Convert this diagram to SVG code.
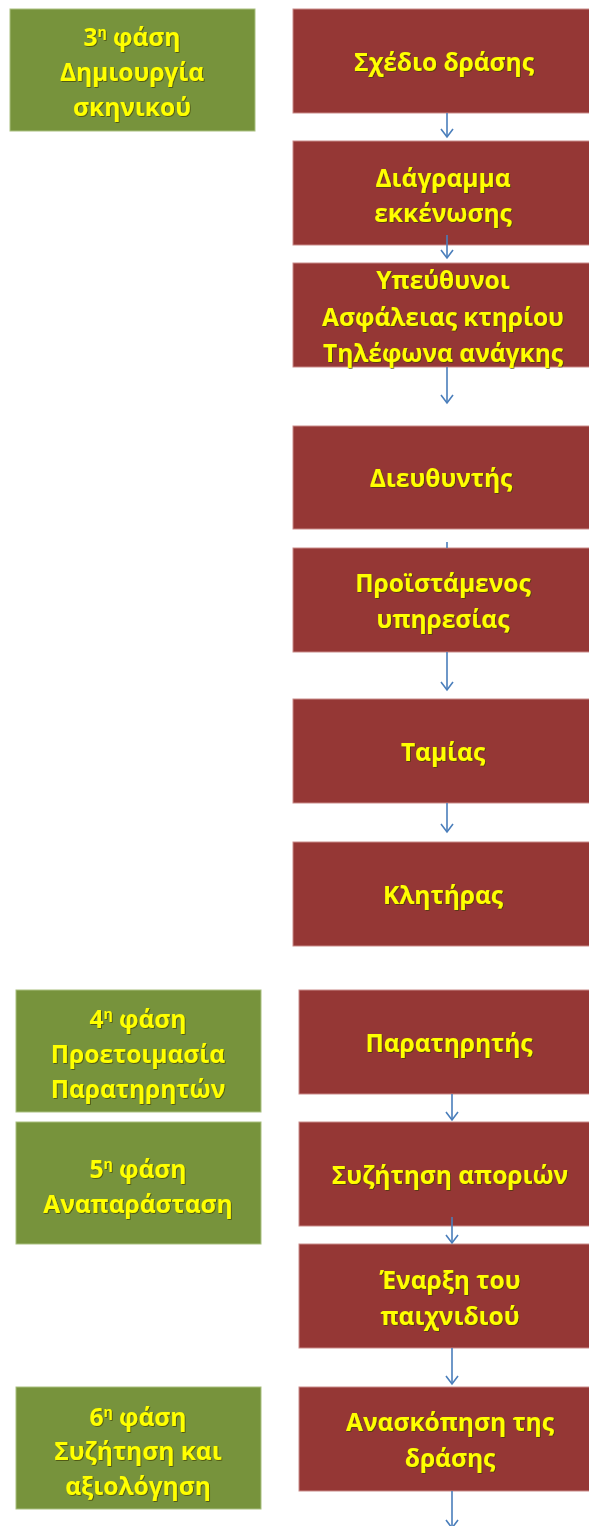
<svg xmlns="http://www.w3.org/2000/svg" width="589" height="1526" viewBox="0 0 589 1526">
<style>
.g{fill:#77933c;stroke:#a9bf7f;stroke-width:1}
.r{fill:#953735;stroke:#c98b89;stroke-width:1}
text{font-family:"Open Sans","Liberation Sans",sans-serif;font-weight:bold;font-size:24.5px;fill:#ffff00;text-anchor:middle;filter:url(#sh)}
.sup{font-size:14px}
.c line{stroke:#4a7ebb;stroke-width:1.6;fill:none}
.c path{stroke:#4a7ebb;stroke-width:1.6;fill:none}
</style>
<defs>
<filter id="sh" x="-10%" y="-30%" width="120%" height="160%">
<feDropShadow dx="0.8" dy="0.8" stdDeviation="0.7" flood-color="#3a3a00" flood-opacity="0.8"/>
</filter>
</defs>
<rect width="589" height="1526" fill="#ffffff"/>

<g id="phase3">
<rect class="g" x="10" y="9" width="245" height="122"/>
<text x="132" y="46">3<tspan class="sup" dy="-9">η</tspan><tspan dy="9"> φάση</tspan></text>
<text x="132" y="81">Δημιουργία</text>
<text x="132" y="116">σκηνικού</text>
</g>

<g id="n1"><rect class="r" x="293" y="9" width="300" height="104"/><text x="444" y="71">Σχέδιο δράσης</text></g>
<g id="n2"><rect class="r" x="293" y="141" width="300" height="104"/><text x="443" y="187">Διάγραμμα</text><text x="443" y="222">εκκένωσης</text></g>
<g id="n3"><rect class="r" x="293" y="263" width="300" height="104"/><text x="443" y="289">Υπεύθυνοι</text><text x="443" y="326">Ασφάλειας κτηρίου</text><text x="443" y="362">Τηλέφωνα ανάγκης</text></g>
<g id="n4"><rect class="r" x="293" y="426" width="300" height="103"/><text x="441" y="487">Διευθυντής</text></g>
<g id="n5"><rect class="r" x="293" y="548" width="300" height="104"/><text x="443" y="592">Προϊστάμενος</text><text x="443" y="628">υπηρεσίας</text></g>
<g id="n6"><rect class="r" x="293" y="699" width="300" height="104"/><text x="443" y="761">Ταμίας</text></g>
<g id="n7"><rect class="r" x="293" y="842" width="300" height="104"/><text x="443" y="904">Κλητήρας</text></g>

<g id="phase4">
<rect class="g" x="16" y="990" width="245" height="122"/>
<text x="138" y="1028">4<tspan class="sup" dy="-9">η</tspan><tspan dy="9"> φάση</tspan></text>
<text x="138" y="1063">Προετοιμασία</text>
<text x="138" y="1098">Παρατηρητών</text>
</g>
<g id="phase5">
<rect class="g" x="16" y="1122" width="245" height="122"/>
<text x="138" y="1178">5<tspan class="sup" dy="-9">η</tspan><tspan dy="9"> φάση</tspan></text>
<text x="138" y="1213">Αναπαράσταση</text>
</g>
<g id="phase6">
<rect class="g" x="16" y="1387" width="245" height="122"/>
<text x="138" y="1426">6<tspan class="sup" dy="-9">η</tspan><tspan dy="9"> φάση</tspan></text>
<text x="138" y="1460">Συζήτηση και</text>
<text x="138" y="1495">αξιολόγηση</text>
</g>

<g id="n8"><rect class="r" x="299" y="990" width="300" height="104"/><text x="449" y="1052">Παρατηρητής</text></g>
<g id="n9"><rect class="r" x="299" y="1122" width="300" height="104"/><text x="450" y="1184">Συζήτηση αποριών</text></g>
<g id="n10"><rect class="r" x="299" y="1244" width="300" height="104"/><text x="450" y="1289">Έναρξη του</text><text x="450" y="1325">παιχνιδιού</text></g>
<g id="n11"><rect class="r" x="299" y="1387" width="300" height="104"/><text x="450" y="1431">Ανασκόπηση της</text><text x="450" y="1467">δράσης</text></g>

<g id="connectors" class="c">
<line x1="447" y1="113" x2="447" y2="137"/><path d="M441,129 L447,137 L453,129"/>
<line x1="447" y1="235" x2="447" y2="258"/><path d="M441,250 L447,258 L453,250"/>
<line x1="447" y1="367" x2="447" y2="403"/><path d="M441,395 L447,403 L453,395"/>
<line x1="447" y1="542" x2="447" y2="548"/>
<line x1="447" y1="652" x2="447" y2="690"/><path d="M441,682 L447,690 L453,682"/>
<line x1="447" y1="803" x2="447" y2="832"/><path d="M441,824 L447,832 L453,824"/>
<line x1="452" y1="1094" x2="452" y2="1120"/><path d="M446,1112 L452,1120 L458,1112"/>
<line x1="452" y1="1217" x2="452" y2="1243"/><path d="M446,1235 L452,1243 L458,1235"/>
<line x1="452" y1="1348" x2="452" y2="1384"/><path d="M446,1376 L452,1384 L458,1376"/>
<line x1="452" y1="1491" x2="452" y2="1526"/><path d="M446,1520 L452,1528 L458,1520"/>
</g>
</svg>
